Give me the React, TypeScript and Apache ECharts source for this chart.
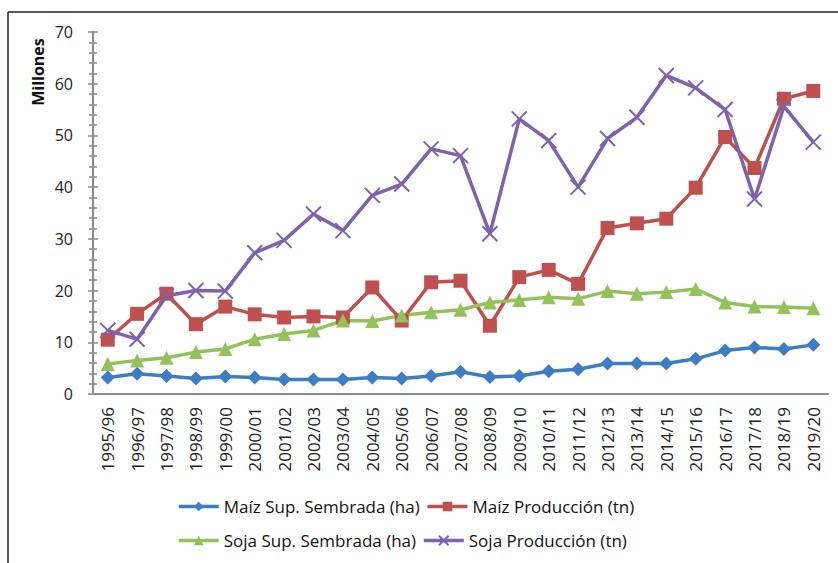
import React, { useEffect, useRef } from "react";
import * as echarts from "echarts";

const categories = [
  "1995/96", "1996/97", "1997/98", "1998/99", "1999/00", "2000/01", "2001/02",
  "2002/03", "2003/04", "2004/05", "2005/06", "2006/07", "2007/08", "2008/09",
  "2009/10", "2010/11", "2011/12", "2012/13", "2013/14", "2014/15", "2015/16",
  "2016/17", "2017/18", "2018/19", "2019/20",
];

const maizSup = [3.2, 3.9, 3.5, 3.0, 3.4, 3.2, 2.8, 2.8, 2.8, 3.2, 3.0, 3.5, 4.3, 3.3, 3.5, 4.4, 4.8, 5.9, 5.9, 5.9, 6.8, 8.4, 9.0, 8.7, 9.5];
const maizProd = [10.5, 15.5, 19.4, 13.5, 16.9, 15.4, 14.8, 15.0, 14.8, 20.6, 14.2, 21.6, 21.9, 13.2, 22.6, 24.0, 21.3, 32.1, 33.0, 33.9, 39.9, 49.7, 43.7, 57.1, 58.6];
const sojaSup = [5.8, 6.5, 7.0, 8.1, 8.7, 10.6, 11.6, 12.3, 14.2, 14.1, 15.2, 15.8, 16.3, 17.7, 18.2, 18.7, 18.4, 19.9, 19.4, 19.7, 20.3, 17.7, 16.9, 16.8, 16.6];
const sojaProd = [12.3, 10.6, 19.0, 20.0, 19.9, 27.3, 29.7, 34.8, 31.6, 38.4, 40.6, 47.4, 46.1, 31.0, 53.2, 49.0, 40.0, 49.4, 53.5, 61.6, 59.2, 55.0, 37.7, 55.6, 48.7];

const seriesNames = [
  "Maíz Sup. Sembrada (ha)",
  "Maíz Producción (tn)",
  "Soja Sup. Sembrada (ha)",
  "Soja Producción (tn)",
];

const yTicks = { min: 0, max: 70, interval: 10 };

const FONT = "Open Sans";
const COLORS = ["#3C7DC4", "#C0504D", "#93C25B", "#7E62AE"];
const CROSS = "path://M0,0L10,10M10,0L0,10";

export default function App() {
  const ref = useRef<HTMLDivElement>(null);

  useEffect(() => {
    if (!ref.current) return;
    const chart = echarts.init(ref.current, null, { renderer: "svg" });
    const mk = (name: string, data: number[], color: string, symbol: string, size: number, extra: any = {}) => ({
      name,
      type: "line",
      data,
      yAxisIndex: 0,
      symbol,
      symbolSize: size,
      showSymbol: true,
      lineStyle: { color, width: 3.5 },
      itemStyle: { color, ...extra },
      emphasis: { disabled: true },
      z: 3,
    });
    const legendBase = {
      orient: "horizontal",
      itemWidth: 40,
      itemHeight: 12,
      itemGap: 6,
      lineStyle: { width: 3.5 },
      textStyle: { fontFamily: FONT, fontSize: 17, color: "#111" },
      selectedMode: false,
      padding: 0,
    };
    chart.setOption({
      animation: false,
      textStyle: { fontFamily: FONT },
      grid: { left: 93, right: 10, top: 32, bottom: 169, containLabel: false },
      xAxis: {
        type: "category",
        data: categories,
        boundaryGap: true,
        axisLine: { lineStyle: { color: "#8A8A8A", width: 2 } },
        axisTick: { show: false },
        axisLabel: { rotate: 90, margin: 13, fontFamily: FONT, fontSize: 17, color: "#222", interval: 0 },
        splitLine: { show: false },
      },
      yAxis: [
        {
          type: "value",
          min: yTicks.min,
          max: yTicks.max,
          interval: yTicks.interval,
          axisLine: { show: true, lineStyle: { color: "#8A8A8A", width: 2 } },
          axisTick: { show: true, length: 5, lineStyle: { color: "#8A8A8A", width: 1.5 } },
          minorTick: { show: true, splitNumber: 5, length: 4, lineStyle: { color: "#8A8A8A", width: 1.5 } },
          axisLabel: { margin: 20, fontFamily: FONT, fontSize: 16, color: "#222" },
          splitLine: { show: false },
        },
        {
          type: "value",
          position: "left",
          min: yTicks.min,
          max: yTicks.max,
          interval: yTicks.interval,
          axisLine: { show: false },
          axisTick: { show: true, inside: true, length: 5, lineStyle: { color: "#8A8A8A", width: 1.5 } },
          minorTick: { show: true, splitNumber: 5, length: 4, lineStyle: { color: "#8A8A8A", width: 1.5 } },
          axisLabel: { show: false },
          splitLine: { show: false },
        },
      ],
      legend: [
        { ...legendBase, left: 177, top: 498, data: [seriesNames[0], seriesNames[1]] },
        { ...legendBase, left: 177, top: 532, data: [seriesNames[2], seriesNames[3]] },
      ],
      graphic: [
        { type: "line", shape: { x1: 8, y1: 12, x2: 838, y2: 12 }, style: { stroke: "#222", lineWidth: 1.5 } },
        { type: "line", shape: { x1: 8, y1: 12, x2: 8, y2: 563 }, style: { stroke: "#222", lineWidth: 1.5 } },
        {
          type: "text",
          x: 38,
          y: 72,
          rotation: Math.PI / 2,
          style: {
            text: "Millones",
            fontFamily: FONT,
            fontSize: 16,
            fontWeight: "bold",
            fill: "#111",
            align: "center",
            verticalAlign: "middle",
          },
        },
      ],
      series: [
        mk(seriesNames[0], maizSup, COLORS[0], "diamond", 14),
        mk(seriesNames[1], maizProd, COLORS[1], "rect", 14),
        mk(seriesNames[2], sojaSup, COLORS[2], "triangle", 14),
        mk(seriesNames[3], sojaProd, COLORS[3], CROSS, 15, { borderColor: COLORS[3], borderWidth: 2 }),
      ],
    });
    return () => chart.dispose();
  }, []);

  return (
    <div
      ref={ref}
      style={{ position: "fixed", left: 0, top: 0, width: 838, height: 563, background: "#fff" }}
    />
  );
}
